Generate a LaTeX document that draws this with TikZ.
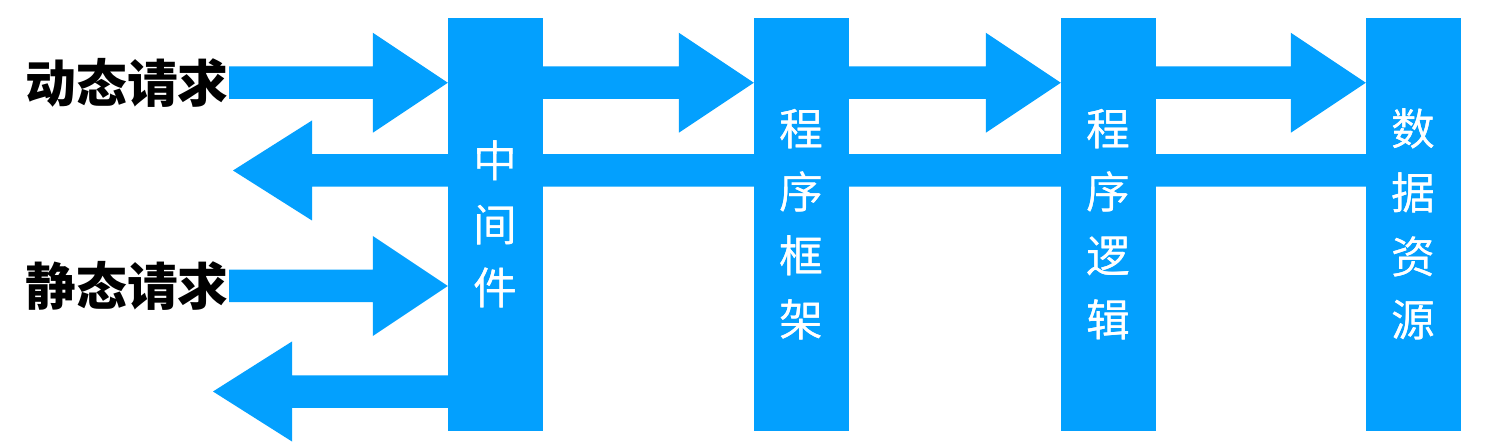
\documentclass[tikz,border=0pt]{standalone}
\usepackage{fontspec}
\newfontfamily\cjk{Noto Sans CJK SC}
\usetikzlibrary{calc}
\definecolor{flowblue}{RGB}{3,160,254}
\newcommand{\flowsw}{16.25bp}
\newcommand{\flowhw}{50bp}
\newcommand{\flowR}[2]{\fill[flowfill] let \p1=(#1), \p2=(#2) in
  (\x1,\y1+\flowsw) -- (\x2-75bp,\y1+\flowsw) -- (\x2-75bp,\y1+\flowhw) -- (\x2,\y1)
  -- (\x2-75bp,\y1-\flowhw) -- (\x2-75bp,\y1-\flowsw) -- (\x1,\y1-\flowsw) -- cycle;}
\newcommand{\flowL}[2]{\fill[flowfill] let \p1=(#1), \p2=(#2) in
  (\x1,\y1+\flowsw) -- (\x2+79bp,\y1+\flowsw) -- (\x2+79bp,\y1+\flowhw) -- (\x2,\y1)
  -- (\x2+79bp,\y1-\flowhw) -- (\x2+79bp,\y1-\flowsw) -- (\x1,\y1-\flowsw) -- cycle;}
\tikzset{
  flowfill/.style={fill=flowblue},
  bar/.style={fill=flowblue, text=white, minimum width=95bp, minimum height=412bp,
    inner sep=0pt, align=center, font=\cjk\fontsize{44}{64}\selectfont},
  reqlabel/.style={anchor=east, inner sep=0pt, text=black,
    font=\cjk\bfseries\fontsize{51}{51}\selectfont}
}
\begin{document}
\begin{tikzpicture}[x=1bp,y=-1bp]
\useasboundingbox[fill=white] (0,0) rectangle (1488,446);
% labels
\node[reqlabel] (dyn) at (229,82.75) {动态请求};
\node[reqlabel] (sta) at (229,286) {静态请求};
% return tips
\coordinate (ret1) at (233,170.5);
\coordinate (ret2) at (213,391.5);
% bars
\node[bar] (mw) at (495.5,224.5) {中\\间\\件};
\node[bar] (pf) at (801.5,224.5) {程\\序\\框\\架};
\node[bar] (pl) at (1108.5,224.5) {程\\序\\逻\\辑};
\node[bar] (ds) at (1413.5,224.5) {数\\据\\资\\源};
% flows (drawn behind bar text is irrelevant: same colour)
\begin{scope}
\flowR{dyn.east}{mw.west}
\flowR{sta.east}{mw.west}
\flowL{ds.west |- ret1}{ret1}
\flowL{mw.west |- ret2}{ret2}
\flowR{mw.east |- dyn.east}{pf.west}
\flowR{pf.east |- dyn.east}{pl.west}
\flowR{pl.east |- dyn.east}{ds.west}
\end{scope}
% redraw bar labels on top
\node[bar, fill=none] at (mw) {中\\间\\件};
\node[bar, fill=none] at (pf) {程\\序\\框\\架};
\node[bar, fill=none] at (pl) {程\\序\\逻\\辑};
\node[bar, fill=none] at (ds) {数\\据\\资\\源};
\end{tikzpicture}
\end{document}
